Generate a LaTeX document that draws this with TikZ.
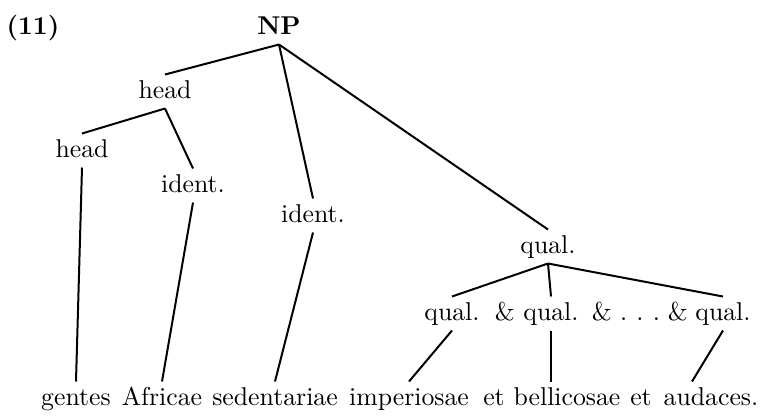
\documentclass[tikz,border=0pt]{standalone}
\usetikzlibrary{calc}

\tikzset{
    lbl/.style={inner sep=2pt, text height=7.2pt, text depth=2pt, anchor=base,
        font=\fontsize{10.3pt}{12.5pt}\selectfont},
    branch/.style={line width=0.8pt},
}

\begin{document}
\begin{tikzpicture}[x=0.4pt, y=-0.4pt]
    \useasboundingbox (0,0) rectangle (760,415);

    % Example number
    \node[lbl] (num) at (33,34) {\textbf{(11)}};

    % Categories
    \node[lbl] (np) at (279,34) {\textbf{NP}};
    \node[lbl] (headA) at (165,98) {head};
    \node[lbl] (headB) at (82,157) {head};
    \node[lbl] (identA) at (193,192) {ident.};
    \node[lbl] (identB) at (313,222) {ident.};
    \node[lbl] (qual) at (548,253) {qual.};

    % Coordinated qualifiers
    \node[lbl] (qualA) at (452,320) {qual.};
    \node[lbl] (ampA) at (505,320) {\&};
    \node[lbl] (qualB) at (551,320) {qual.};
    \node[lbl] (ampB) at (602,320) {\&};
    \node[lbl] (dots) at (640,320) {.\kern3.7pt.\kern3.7pt.};
    \node[lbl] (ampC) at (678,320) {\&};
    \node[lbl] (qualC) at (723,320) {qual.};

    % Sentence
    \foreach \x/\word/\n in {76/gentes/gentes, 162/Africae/africae,
        275/sedentariae/sedentariae, 409/imperiosae/imperiosae, 494/et/etA,
        567/bellicosae/bellicosae, 641/et/etB, 711/audaces./audaces} {
        \node[lbl] (\n) at (\x,405) {\word};
    }

    % Branches
    \draw[branch] (np.south) -- (headA.north);
    \draw[branch] (np.south) -- (identB.north);
    \draw[branch] (np.south) -- (qual.north);
    \draw[branch] (headA.south) -- (headB.north);
    \draw[branch] (headA.south) -- (identA.north);
    \draw[branch] (qual.south) -- (qualA.north);
    \draw[branch] (qual.south) -- (qualB.north);
    \draw[branch] (qual.south) -- (qualC.north);

    % Branches to the words
    \draw[branch] (headB.south) -- (gentes.north);
    \draw[branch] (identA.south) -- (africae.north);
    \draw[branch] (identB.south) -- (sedentariae.north);
    \draw[branch] (qualA.south) -- (imperiosae.north);
    \draw[branch] (qualB.south) -- (qualB.south |- bellicosae.north);
    \draw[branch] (qualC.south) -- ($(audaces.north)+(-19,0)$);
\end{tikzpicture}
\end{document}
